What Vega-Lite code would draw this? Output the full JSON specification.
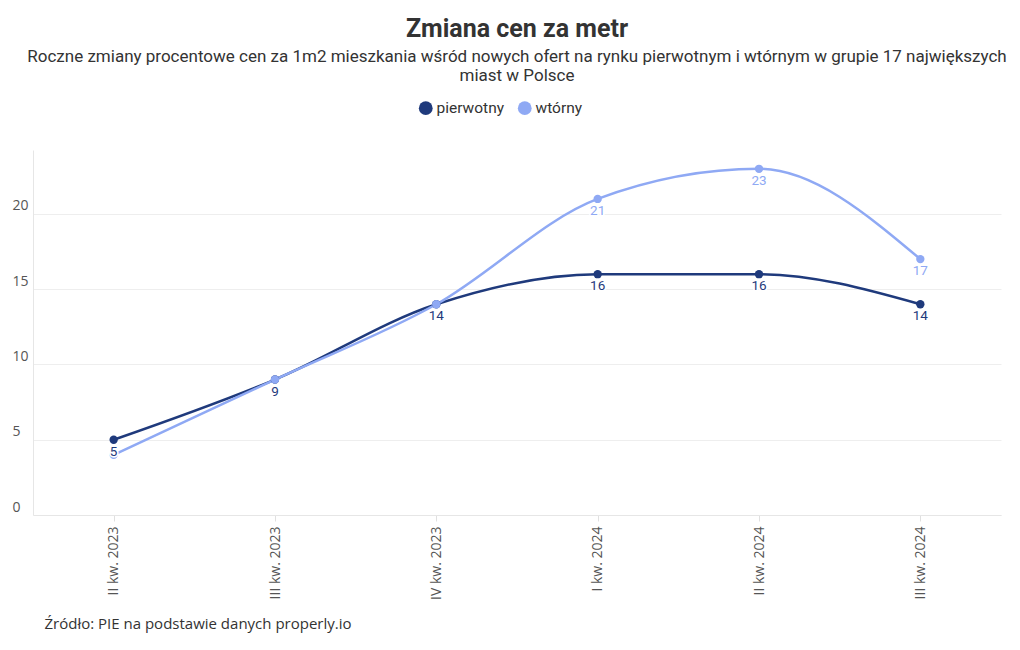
{
  "$schema": "https://vega.github.io/schema/vega-lite/v6.json",
  "width": 968,
  "height": 365,
  "autosize": {"type": "none"},
  "padding": {"left": 33, "top": 150, "right": 19, "bottom": 135},
  "background": "white",
  "title": {
    "text": "Zmiana cen za metr",
    "subtitle": ["Roczne zmiany procentowe cen za 1m2 mieszkania wśród nowych ofert na rynku pierwotnym i wtórnym w grupie 17 największych", "miast w Polsce"],
    "anchor": "middle",
    "font": "Roboto",
    "fontSize": 25,
    "fontWeight": "bold",
    "color": "#333333",
    "subtitleFont": "Roboto",
    "subtitleFontSize": 17,
    "subtitleColor": "#333333",
    "subtitlePadding": 7,
    "subtitleLineHeight": 19,
    "offset": 16
  },
  "data": {
    "values": [
      {"kwartal": "II kw. 2023", "seria": "pierwotny", "wartosc": 5},
      {"kwartal": "III kw. 2023", "seria": "pierwotny", "wartosc": 9},
      {"kwartal": "IV kw. 2023", "seria": "pierwotny", "wartosc": 14},
      {"kwartal": "I kw. 2024", "seria": "pierwotny", "wartosc": 16},
      {"kwartal": "II kw. 2024", "seria": "pierwotny", "wartosc": 16},
      {"kwartal": "III kw. 2024", "seria": "pierwotny", "wartosc": 14},
      {"kwartal": "II kw. 2023", "seria": "wtórny", "wartosc": 4},
      {"kwartal": "III kw. 2023", "seria": "wtórny", "wartosc": 9},
      {"kwartal": "IV kw. 2023", "seria": "wtórny", "wartosc": 14},
      {"kwartal": "I kw. 2024", "seria": "wtórny", "wartosc": 21},
      {"kwartal": "II kw. 2024", "seria": "wtórny", "wartosc": 23},
      {"kwartal": "III kw. 2024", "seria": "wtórny", "wartosc": 17}
    ]
  },
  "encoding": {
    "x": {
      "field": "kwartal",
      "type": "nominal",
      "sort": ["II kw. 2023", "III kw. 2023", "IV kw. 2023", "I kw. 2024", "II kw. 2024", "III kw. 2024"],
      "scale": {"type": "point", "padding": 0.5},
      "axis": {
        "labelAngle": -90,
        "labelFont": "Open Sans",
        "labelFontSize": 14,
        "labelColor": "#555555",
        "labelPadding": 5,
        "domainColor": "#e6e6e6",
        "tickColor": "#e0e0e0",
        "tickSize": 6,
        "grid": false,
        "title": "Źródło: PIE na podstawie danych properly.io",
        "titleFont": "Open Sans",
        "titleFontSize": 15,
        "titleFontWeight": "normal",
        "titleColor": "#333333",
        "titleAnchor": "start",
        "titleAlign": "left",
        "titleBaseline": "alphabetic",
        "titleX": 11,
        "titleY": 113
      }
    },
    "y": {
      "field": "wartosc",
      "type": "quantitative",
      "scale": {"domain": [0, 24.25], "nice": false},
      "axis": {
        "values": [0, 5, 10, 15, 20],
        "title": null,
        "labelFont": "Open Sans",
        "labelFontSize": 14,
        "labelColor": "#555555",
        "labelAlign": "left",
        "labelBaseline": "bottom",
        "labelOffset": -1,
        "labelPadding": 21,
        "ticks": false,
        "tickSize": 0,
        "domainColor": "#e6e6e6",
        "gridColor": "#eeeeee"
      }
    },
    "color": {
      "field": "seria",
      "type": "nominal",
      "scale": {"domain": ["pierwotny", "wtórny"], "range": ["#1f3a7c", "#8fa9f4"]},
      "legend": {
        "title": null,
        "orient": "none",
        "direction": "horizontal",
        "legendX": 385,
        "legendY": -50,
        "symbolType": "circle",
        "symbolSize": 190,
        "symbolStrokeWidth": 0,
        "labelFont": "Roboto",
        "labelFontSize": 15.5,
        "labelColor": "#333333",
        "labelOffset": 3,
        "columnPadding": 12
      }
    }
  },
  "layer": [
    {
      "mark": {"type": "line", "interpolate": "monotone", "strokeWidth": 2.5}
    },
    {
      "mark": {"type": "point", "filled": true, "size": 70, "opacity": 1}
    },
    {
      "transform": [{"filter": "datum.seria == 'pierwotny' || datum.wartosc >= 17"}],
      "mark": {"type": "text", "dy": 12, "fontSize": 13.5, "font": "Roboto", "color": "white", "stroke": "white", "strokeWidth": 3, "fontWeight": "bold"},
      "encoding": {
        "text": {"field": "wartosc", "type": "quantitative"},
        "color": {"value": "white"}
      }
    },
    {
      "transform": [{"filter": "datum.seria == 'pierwotny' || datum.wartosc >= 17"}],
      "mark": {"type": "text", "dy": 12, "fontSize": 13.5, "font": "Roboto"},
      "encoding": {
        "text": {"field": "wartosc", "type": "quantitative"},
        "fontWeight": {
          "field": "seria",
          "type": "nominal",
          "scale": {"domain": ["pierwotny", "wtórny"], "range": ["bold", "normal"]},
          "legend": null
        }
      }
    }
  ],
  "config": {"view": {"stroke": null}}
}
